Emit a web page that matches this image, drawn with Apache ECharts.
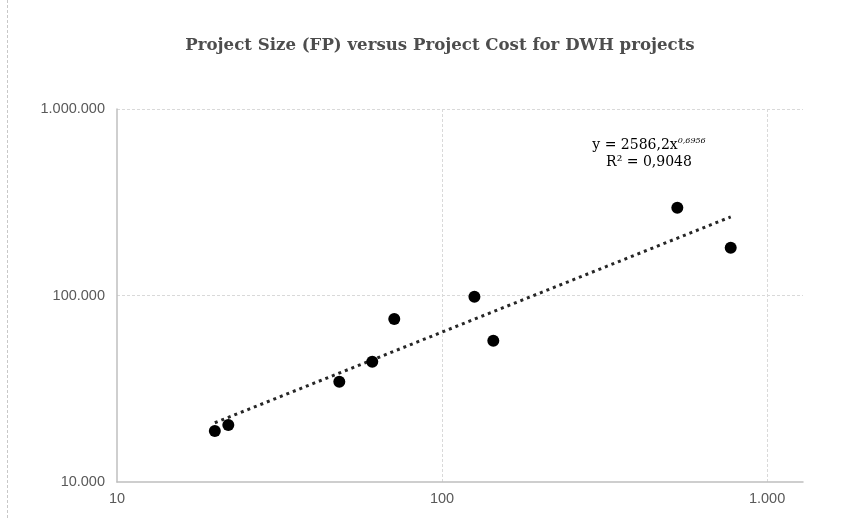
<!DOCTYPE html>
<html>
<head>
<meta charset="utf-8">
<script src="https://cdn.jsdelivr.net/npm/echarts@6/dist/echarts.min.js"></script>
<style>html,body{margin:0;padding:0;background:#fff}#c{width:854px;height:519px}</style>
</head>
<body>
<div id="c"></div>
<script>
const titleText = 'Project Size (FP) versus Project Cost for DWH projects';
const sizeFP = [20, 22, 48.3, 61, 71.3, 125.8, 143.8, 529.6, 773];
const costValues = [18770, 20210, 34500, 44160, 74800, 98500, 57230, 295700, 180400];
const trendX = [20, 773];
const trendY = [20780, 264000];
const eqCoef = '2586,2';
const eqExp = '0,6956';
const rSquared = '0,9048';

const fmt = v => String(Math.round(v)).replace(/\B(?=(\d{3})+(?!\d))/g, '.');

const chart = echarts.init(document.getElementById('c'));
chart.setOption({
  animation: false,
  backgroundColor: '#fff',
  title: {
    text: titleText,
    left: 440, top: 32, textAlign: 'center',
    textStyle: { fontFamily: 'DejaVu Serif', fontWeight: 'bold', fontSize: 16.6, color: '#4d4d4d' }
  },
  grid: { left: 117, top: 109, right: 51, bottom: 37 },
  xAxis: {
    type: 'log', logBase: 10, min: 10, max: 1290,
    axisLine: { show: true, lineStyle: { color: '#bfbfbf', width: 1.5 } },
    axisTick: { show: false },
    axisLabel: { formatter: fmt, color: '#595959', fontFamily: 'Liberation Sans', fontSize: 14.5, margin: 9, showMaxLabel: false },
    splitLine: { show: true, showMinLine: false, showMaxLine: false, lineStyle: { color: '#d9d9d9', type: [3, 2] } },
    minorTick: { show: false }
  },
  yAxis: {
    type: 'log', logBase: 10, min: 10000, max: 1000000,
    axisLine: { show: true, lineStyle: { color: '#bfbfbf', width: 1.5 } },
    axisTick: { show: false },
    axisLabel: { formatter: fmt, color: '#595959', fontFamily: 'Liberation Sans', fontSize: 14.5, margin: 12 },
    splitLine: { show: true, showMinLine: false, lineStyle: { color: '#d9d9d9', type: [3, 2] } }
  },
  series: [
    {
      type: 'line', data: trendX.map((x, i) => [x, trendY[i]]),
      symbol: 'none', silent: true,
      lineStyle: { color: '#262626', width: 3, type: [3, 4], cap: 'butt' },
      z: 1
    },
    {
      type: 'scatter', data: sizeFP.map((x, i) => [x, costValues[i]]),
      symbol: 'circle', symbolSize: 12,
      itemStyle: { color: '#000', opacity: 1 }, z: 2
    }
  ],
  graphic: [
    { type: 'line', shape: { x1: 7.5, y1: 0, x2: 7.5, y2: 519 }, style: { stroke: '#c8c8c8', lineWidth: 1, lineDash: [3, 2] } },
    {
      type: 'text', x: 649, y: 137,
      style: {
        text: '{a|y = ' + eqCoef + 'x}{s|' + eqExp + '}\n{a|R² = ' + rSquared + '}',
        align: 'center',
        rich: {
          a: { fontFamily: 'DejaVu Serif', fontSize: 14, color: '#595959', lineHeight: 17, align: 'center' },
          s: { fontFamily: 'DejaVu Serif', fontSize: 8, fontStyle: 'italic', color: '#595959', verticalAlign: 'top', padding: [0, 0, 8, 0] }
        }
      }
    }
  ]
});
chart.setOption({ title: { left: 435 } });
</script>
</body>
</html>
